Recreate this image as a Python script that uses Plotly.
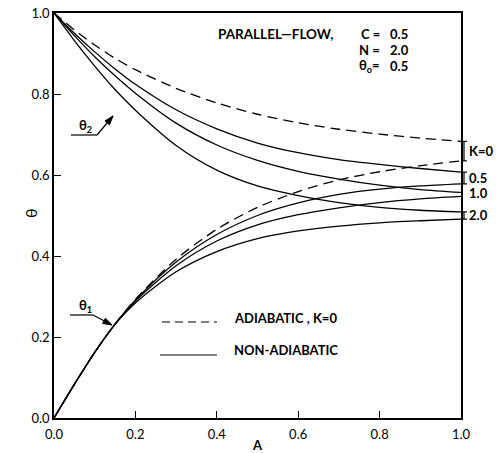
import plotly.graph_objects as go

# ---- data ----
A = [0.0, 0.05, 0.1, 0.15, 0.2, 0.3, 0.4, 0.5, 0.6, 0.7, 0.8, 0.9, 1.0]

theta2_adiabatic = [1.0, 0.958, 0.921, 0.888, 0.860, 0.814, 0.778, 0.750, 0.729, 0.713, 0.701, 0.691, 0.683]
theta1_adiabatic = [0.0, 0.083, 0.162, 0.232, 0.293, 0.392, 0.466, 0.520, 0.559, 0.588, 0.608, 0.623, 0.635]

theta2_K05 = [1.0, 0.950, 0.904, 0.862, 0.824, 0.761, 0.714, 0.679, 0.655, 0.638, 0.626, 0.616, 0.607]
theta2_K10 = [1.0, 0.944, 0.892, 0.845, 0.802, 0.728, 0.674, 0.636, 0.609, 0.590, 0.575, 0.564, 0.557]
theta2_K20 = [1.0, 0.932, 0.869, 0.811, 0.760, 0.673, 0.612, 0.573, 0.549, 0.532, 0.520, 0.513, 0.509]

theta1_K05 = [0.0, 0.083, 0.162, 0.232, 0.291, 0.385, 0.453, 0.500, 0.531, 0.552, 0.565, 0.573, 0.578]
theta1_K10 = [0.0, 0.083, 0.162, 0.232, 0.289, 0.376, 0.437, 0.477, 0.502, 0.519, 0.532, 0.541, 0.547]
theta1_K20 = [0.0, 0.083, 0.162, 0.231, 0.284, 0.361, 0.411, 0.443, 0.462, 0.474, 0.482, 0.487, 0.491]

tick_vals = [0.0, 0.2, 0.4, 0.6, 0.8, 1.0]
tick_text = ["0.0", "0.2", "0.4", "0.6", "0.8", "1.0"]

FONT = "Lato"
W, H = 503, 453
ML, MR, MT, MB = 54, 42, 13, 35
PW, PH = W - ML - MR, H - MT - MB

def px(xp, yp):
    """pixel position -> paper/data coordinates (axes span [0,1])"""
    return (xp - ML) / PW, (H - MB - yp) / PH

fig = go.Figure()

def add(y, dash):
    fig.add_trace(go.Scatter(x=A, y=y, mode="lines",
                             line=dict(color="black", width=1.3, dash=dash, shape="spline", smoothing=0.8),
                             showlegend=False, hoverinfo="skip"))

DASH = "10px,6px"
add(theta2_adiabatic, DASH)
add(theta1_adiabatic, DASH)
for s in (theta2_K05, theta2_K10, theta2_K20, theta1_K05, theta1_K10, theta1_K20):
    add(s, "solid")

ann = []
def txt(x, y, t, xa="left", size=13, angle=0):
    ann.append(dict(x=x, y=y, xref="paper", yref="paper", text=t, showarrow=False, textangle=angle,
                    xanchor=xa, yanchor="middle", font=dict(family=FONT, size=size, color="black")))

# header text
HS = 13
txt(*px(216, 34), "<b>PARALLEL\u2014FLOW,</b>", size=13.5)
txt(*px(382, 34), "<b>C =</b>", xa="right", size=HS)
txt(*px(382, 50), "<b>N =</b>", xa="right", size=HS)
txt(*px(382, 66), "<b>\u03b8<sub>o</sub>=</b>", xa="right", size=HS)
txt(*px(388, 34), "<b>0.5</b>", size=HS)
txt(*px(388, 50), "<b>2.0</b>", size=HS)
txt(*px(388, 66), "<b>0.5</b>", size=HS)

# right-side K labels
txt(*px(467, 151), "<b>K=0</b>")
txt(*px(467, 178), "<b>0.5</b>")
txt(*px(467, 193), "<b>1.0</b>")
txt(*px(467, 215), "<b>2.0</b>")

# legend text
txt(*px(232, 318), "<b>ADIABATIC , K=0</b>", size=13)
txt(*px(232, 350), "<b>NON-ADIABATIC</b>", size=13)

# theta labels
txt(*px(77, 126), "<b>\u03b8<sub>2</sub></b>")
txt(*px(77, 306), "<b>\u03b8<sub>1</sub></b>")

# y-axis title
txt(*px(30, 213), "\u03b8", xa="center", size=16, angle=-90)

shapes = []
def ln(p0, p1, dash="solid", w=1.2):
    x0, y0 = px(*p0)
    x1, y1 = px(*p1)
    shapes.append(dict(type="line", x0=x0, y0=y0, x1=x1, y1=y1, xref="paper", yref="paper",
                       line=dict(color="black", width=w, dash=dash)))

def arrow(p_tail, p_tip, hl=9, hw=3):
    ln(p_tail, p_tip)
    dx, dy = p_tip[0] - p_tail[0], p_tip[1] - p_tail[1]
    n = (dx * dx + dy * dy) ** 0.5
    ux, uy = dx / n, dy / n
    bx, by = p_tip[0] - hl * ux, p_tip[1] - hl * uy
    c1 = px(bx - hw * uy, by + hw * ux)
    c2 = px(bx + hw * uy, by - hw * ux)
    t = px(*p_tip)
    path = f"M {t[0]},{t[1]} L {c1[0]},{c1[1]} L {c2[0]},{c2[1]} Z"
    shapes.append(dict(type="path", path=path, xref="paper", yref="paper",
                       fillcolor="black", line=dict(color="black", width=1)))

# theta2 arrow
ln((71, 135), (97, 135))
arrow((97, 135), (113, 116))
# theta1 arrow
ln((70, 315), (93, 315))
arrow((93, 315), (112, 325))

# legend samples
ln((162, 322), (217, 322), dash="8px,5px")
ln((160, 355), (217, 355))

# brackets at right edge
def bracket(v0, v1):
    y0 = H - MB - v0 * PH
    y1 = H - MB - v1 * PH
    ln((464, y0), (464, y1))
    ln((462, y0), (467, y0))
    ln((462, y1), (467, y1))
bracket(0.683, 0.635)
bracket(0.607, 0.578)
bracket(0.509, 0.491)

axis_common = dict(range=[0, 1], tickvals=tick_vals, ticktext=tick_text, ticks="inside", ticklen=7,
                   tickwidth=1.2, tickcolor="black", showline=True, linecolor="black", linewidth=1.5,
                   mirror=True, showgrid=False, zeroline=False, automargin=False,
                   tickfont=dict(family=FONT, size=13, color="black"))

fig.update_layout(
    width=W, height=H,
    margin=dict(l=ML, r=MR, t=MT, b=MB, autoexpand=False),
    paper_bgcolor="white", plot_bgcolor="white",
    xaxis=dict(**axis_common, ticklabelstandoff=4,
               title=dict(text="<b>A</b>", font=dict(family=FONT, size=13, color="black"), standoff=5)),
    yaxis=dict(**axis_common),
    annotations=ann, shapes=shapes,
)
fig.write_html("out.html")
